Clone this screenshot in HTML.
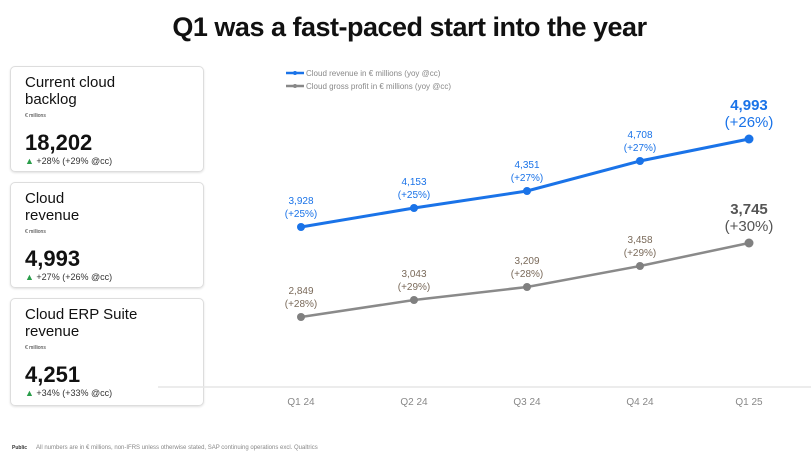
<!DOCTYPE html>
<html><head><style>
body{margin:0;width:811px;height:451px;background:#fff;font-family:"Liberation Sans",sans-serif;position:relative;overflow:hidden}
.t{position:absolute;left:4px;width:811px;top:12px;text-align:center;font-size:27px;font-weight:bold;color:#111;letter-spacing:-0.5px}
.c{position:absolute;left:10px;width:192px;border:1px solid #ddd;border-radius:5px;box-shadow:0 1px 2px rgba(0,0,0,.12)}
.h{position:absolute;left:14px;top:7px;font-size:15px;line-height:17px;color:#111}
.m{position:absolute;left:14px;font-size:5px;color:#333}
.v{position:absolute;left:14px;font-size:22px;font-weight:bold;color:#111}
.g{position:absolute;left:14px;font-size:9px;color:#333}
.g b{color:#2a9d4a;font-weight:normal}
</style></head><body>
<div class="t">Q1 was a fast-paced start into the year</div>
<div class="c" style="top:66px;height:104px"><div class="h">Current cloud<br>backlog</div><div class="m" style="top:46px">€ millions</div><div class="v" style="top:63px">18,202</div><div class="g" style="top:89px"><b>▲</b> +28% (+29% @cc)</div></div>
<div class="c" style="top:182px;height:104px"><div class="h">Cloud<br>revenue</div><div class="m" style="top:46px">€ millions</div><div class="v" style="top:63px">4,993</div><div class="g" style="top:89px"><b>▲</b> +27% (+26% @cc)</div></div>
<div class="c" style="top:298px;height:106px"><div class="h">Cloud ERP Suite<br>revenue</div><div class="m" style="top:46px">€ millions</div><div class="v" style="top:63px">4,251</div><div class="g" style="top:89px"><b>▲</b> +34% (+33% @cc)</div></div>
<svg width="811" height="451" style="position:absolute;left:0;top:0" font-family="Liberation Sans, sans-serif">
<line x1="286" y1="73" x2="304" y2="73" stroke="#1a73e8" stroke-width="2.5"/><circle cx="295" cy="73" r="2" fill="#1a73e8"/>
<text x="306" y="76" font-size="8" fill="#888">Cloud revenue in € millions (yoy @cc)</text>
<line x1="286" y1="86" x2="304" y2="86" stroke="#888" stroke-width="2.5"/><circle cx="295" cy="86" r="2" fill="#888"/>
<text x="306" y="89" font-size="8" fill="#888">Cloud gross profit in € millions (yoy @cc)</text>
<line x1="158" y1="387" x2="811" y2="387" stroke="#e6e6e6" stroke-width="1.5"/>
<g font-size="10" fill="#888" text-anchor="middle"><text x="301" y="405">Q1 24</text><text x="414" y="405">Q2 24</text><text x="527" y="405">Q3 24</text><text x="640" y="405">Q4 24</text><text x="749" y="405">Q1 25</text></g>
<polyline points="301,227 414,208 527,191 640,161 749,139" fill="none" stroke="#1a73e8" stroke-width="3"/>
<polyline points="301,317 414,300 527,287 640,266 749,243" fill="none" stroke="#8a8a8a" stroke-width="2.5"/>
<g fill="#1a73e8"><circle cx="301" cy="227" r="4"/><circle cx="414" cy="208" r="4"/><circle cx="527" cy="191" r="4"/><circle cx="640" cy="161" r="4"/><circle cx="749" cy="139" r="4.5"/></g>
<g fill="#808080"><circle cx="301" cy="317" r="4"/><circle cx="414" cy="300" r="4"/><circle cx="527" cy="287" r="4"/><circle cx="640" cy="266" r="4"/><circle cx="749" cy="243" r="4.5"/></g>
<g font-size="10" fill="#1a73e8" text-anchor="middle">
<text x="301" y="204">3,928</text><text x="301" y="217">(+25%)</text>
<text x="414" y="185">4,153</text><text x="414" y="198">(+25%)</text>
<text x="527" y="168">4,351</text><text x="527" y="181">(+27%)</text>
<text x="640" y="138">4,708</text><text x="640" y="151">(+27%)</text>
<text x="749" y="110" font-size="15" font-weight="bold">4,993</text><text x="749" y="127" font-size="15">(+26%)</text></g>
<g font-size="10" fill="#7a6a5a" text-anchor="middle">
<text x="301" y="294">2,849</text><text x="301" y="307">(+28%)</text>
<text x="414" y="277">3,043</text><text x="414" y="290">(+29%)</text>
<text x="527" y="264">3,209</text><text x="527" y="277">(+28%)</text>
<text x="640" y="243">3,458</text><text x="640" y="256">(+29%)</text>
<text x="749" y="214" font-size="15" font-weight="bold" fill="#555">3,745</text><text x="749" y="231" font-size="15" fill="#555">(+30%)</text></g>
<text x="12" y="449" font-size="5" font-weight="bold" fill="#333">Public</text>
<text x="36" y="449" font-size="6" fill="#888">All numbers are in € millions, non-IFRS unless otherwise stated, SAP continuing operations excl. Qualtrics</text>
</svg>
</body></html>
